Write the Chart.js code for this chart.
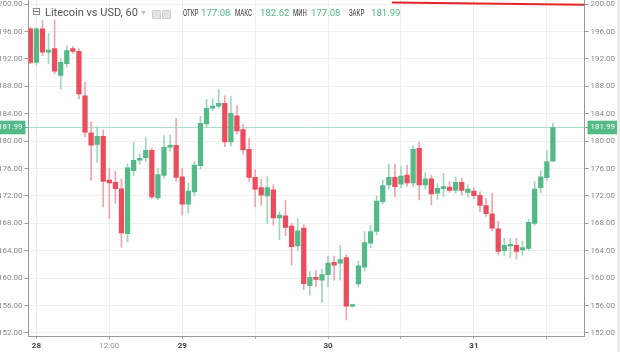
<!DOCTYPE html>
<html>
<head>
<meta charset="utf-8">
<script src="https://cdn.jsdelivr.net/npm/chart.js@4"></script>
<style>
  html, body { margin: 0; padding: 0; background: #fff; }
  #wrap { position: relative; width: 620px; height: 352px; overflow: hidden; }
  #edge { position: absolute; left: 617px; top: 0; width: 3px; height: 352px; background: #ececec; }
  #head span { position: absolute; white-space: nowrap; font-family: Roboto, sans-serif; }
  .lbl { top: 7px; font-size: 9.6px; color: #333; transform: scaleX(0.63); transform-origin: 0 0; }
  .val { top: 7px; font-size: 9.6px; color: #53b987; }
  .ico { top: 10px; width: 7px; height: 7px; background: #e4e4e4; border: 1px solid #d0d0d0; border-radius: 1px; }
</style>
</head>
<body>
<div id="wrap">
  <canvas id="myChart" width="620" height="352"></canvas>
  <div id="edge"></div>
  <div id="head">
    <span style="left:32px;top:5px;font-size:11px;color:#777;font-family:'DejaVu Sans'">⊟</span>
    <span style="left:45px;top:6px;font-size:11px;color:#555">Litecoin vs USD, 60</span>
    <span style="left:140px;top:9px;font-size:7px;color:#bbb">▼</span>
    <span class="ico" style="left:152px"></span>
    <span class="ico" style="left:162px"></span>
    <span class="lbl" style="left:183px">ОТКР</span>
    <span class="val" style="left:201px">177.08</span>
    <span class="lbl" style="left:235px">МАКС</span>
    <span class="val" style="left:260px">182.62</span>
    <span class="lbl" style="left:293px">МИН</span>
    <span class="val" style="left:311px">177.08</span>
    <span class="lbl" style="left:349px">ЗАКР</span>
    <span class="val" style="left:371px">181.99</span>
  </div>
</div>
<script>
// hourly candles, 27th 23:00 .. 31st ~13:00
var opens  = [196.4, 191.5, 196.4, 193.0, 193.5, 189.6, 191.3, 193.5, 193.1, 186.6,
              181.2, 179.5, 180.7, 174.3, 174.0, 173.05, 166.5, 175.7, 177.2, 177.6,
              178.65, 171.7, 175.0, 179.1, 179.4, 174.8, 170.8, 172.6, 176.4, 182.5,
              184.8, 185.1, 185.5, 179.9, 183.7, 181.7, 178.8, 174.7, 173.2, 172.0,
              172.9, 168.8, 169.1, 167.6, 164.7, 167.3, 158.9, 160.1, 159.7, 160.5,
              162.3, 162.2, 163.0, 155.9, 159.15, 161.6, 165.1, 166.8, 171.15, 173.6,
              174.7, 173.7, 175.05, 173.9, 178.95, 173.6, 174.5, 172.4, 173.05, 173.3,
              172.8, 174.0, 172.5, 172.7, 172.1, 170.6, 169.4, 167.2, 164.0, 164.7,
              164.8, 164.1, 164.35, 168.0, 173.2, 174.65, 177.08];
var highs  = [196.6, 196.6, 197.6, 195.7, 197.7, 192.0, 193.9, 193.8, 193.5, 188.6,
              182.8, 182.1, 181.6, 176.0, 175.6, 174.5, 176.7, 179.9, 178.1, 180.6,
              179.0, 176.0, 180.8, 180.9, 183.3, 176.0, 173.9, 177.0, 183.6, 186.1,
              186.2, 187.6, 186.6, 186.5, 185.2, 182.4, 180.4, 175.8, 174.4, 174.8,
              173.6, 169.7, 171.4, 168.0, 168.7, 167.8, 160.95, 161.1, 161.3, 163.2,
              163.2, 164.8, 163.4, 156.2, 162.5, 166.8, 167.7, 172.0, 174.3, 176.65,
              176.65, 176.3, 176.5, 179.3, 179.9, 175.4, 175.0, 173.8, 175.3, 174.1,
              174.8, 174.6, 173.6, 173.2, 172.6, 171.6, 172.4, 168.3, 165.8, 165.8,
              165.8, 165.4, 168.6, 174.1, 175.7, 178.7, 182.62];
var lows   = [191.3, 191.05, 192.5, 191.3, 189.8, 187.6, 190.8, 192.8, 186.2, 180.6,
              174.3, 176.9, 170.4, 168.7, 170.9, 164.5, 165.3, 175.0, 176.6, 177.0,
              171.6, 171.5, 174.6, 178.5, 174.1, 169.2, 169.5, 172.0, 175.9, 182.0,
              184.5, 184.8, 179.2, 179.3, 181.0, 178.1, 174.1, 170.4, 170.6, 168.0,
              167.7, 165.6, 166.2, 161.9, 164.0, 158.3, 157.5, 158.7, 156.4, 158.7,
              159.7, 159.7, 153.9, 155.8, 158.7, 161.0, 164.4, 166.3, 170.8, 173.0,
              171.9, 173.2, 173.4, 173.4, 171.4, 173.0, 170.7, 171.5, 171.9, 172.5,
              172.4, 172.1, 171.8, 171.6, 169.7, 169.0, 166.9, 163.4, 163.3, 163.0,
              162.8, 163.3, 164.0, 167.7, 172.4, 174.2, 177.08];
var closes = [191.5, 196.4, 193.0, 193.3, 190.2, 191.5, 193.2, 193.1, 186.9, 181.3,
              179.4, 180.7, 174.1, 173.9, 173.05, 166.6, 176.1, 177.2, 177.5, 178.65,
              171.85, 175.1, 179.1, 179.4, 174.7, 170.8, 172.7, 176.5, 182.6, 184.8,
              185.1, 185.5, 179.9, 184.05, 181.5, 178.7, 174.7, 173.0, 172.1, 173.2,
              168.8, 169.2, 167.4, 164.6, 166.9, 159.2, 160.1, 159.8, 160.5, 162.2,
              161.9, 162.7, 155.9, 156.0, 161.8, 165.2, 166.8, 171.25, 173.5, 174.7,
              173.35, 174.9, 173.9, 178.8, 173.6, 174.5, 172.3, 173.1, 173.35, 172.8,
              174.0, 172.8, 173.0, 172.05, 170.6, 169.4, 167.3, 163.9, 164.8, 164.9,
              163.9, 164.45, 168.15, 173.0, 174.8, 177.0, 181.99];

var timeTicks  = [1, 13, 25, 37, 49, 61, 73, 85];
var timeLabels = ['28', '12:00', '29', '', '30', '', '31', ''];
var priceTicks = [152, 156, 160, 164, 168, 172, 176, 180, 184, 188, 192, 196, 200];
var lastPrice = 181.99;
var trendLine = [{x: 59.5, y: 200.25}, {x: 91.2, y: 199.9}];
var xMin = -0.3, xMax = 91.2;

var UP = '#53b987', DOWN = '#eb4d5c';
var UP_WICK = '#9fd7bc', DOWN_WICK = '#f3a3ac';

var bodies = opens.map(function (o, i) { return {x: i, y: [o, closes[i]]}; });
var wicks = lows.map(function (l, i) { return {x: i, y: [l, highs[i]]}; });
function isUp(i) { return closes[i] >= opens[i]; }

function priceAxis(pos) {
    return {
        position: pos,
        min: 151.55,
        max: 200.6,
        afterBuildTicks: function (s) {
            s.ticks = priceTicks.concat([lastPrice]).map(function (v) { return {value: v}; });
        },
        afterFit: function (s) {
            s.width = pos == 'left' ? 28.5 : 35.5;
            s.paddingTop = 0;
            s.paddingBottom = 0;
        },
        ticks: {
            autoSkip: false,
            padding: 2,
            font: {family: 'Roboto', size: 8},
            color: function (c) { return c.tick && c.tick.value == lastPrice ? '#fff' : '#888'; },
            showLabelBackdrop: function (c) { return !!(c.tick && c.tick.value == lastPrice); },
            backdropColor: UP,
            backdropPadding: {x: 3, y: 2},
            callback: function (v) { return Number(v).toFixed(2); }
        },
        grid: {
            drawOnChartArea: pos == 'left',
            tickLength: 4,
            color: function (c) { return c.tick && c.tick.value == lastPrice ? 'rgba(0,0,0,0)' : '#f0f0f0'; },
            tickColor: function (c) { return c.tick && c.tick.value == lastPrice ? UP : '#999'; }
        },
        border: {color: '#999'}
    };
}

var ctx = document.getElementById('myChart').getContext('2d');
var myChart = new Chart(ctx, {
    type: 'bar',
    data: {
        datasets: [{
            label: 'body',
            data: bodies,
            grouped: false,
            barThickness: 4.6,
            minBarLength: 1.5,
            order: 1,
            backgroundColor: function (c) { return isUp(c.dataIndex) ? UP : DOWN; }
        }, {
            label: 'wick',
            data: wicks,
            grouped: false,
            barThickness: 1,
            order: 2,
            backgroundColor: function (c) { return isUp(c.dataIndex) ? UP_WICK : DOWN_WICK; }
        }, {
            type: 'line',
            label: 'last',
            data: [{x: xMin, y: lastPrice}, {x: xMax, y: lastPrice}],
            borderColor: '#aadfc7',
            borderWidth: 1,
            pointRadius: 0,
            order: 3
        }, {
            type: 'line',
            label: 'trend',
            data: trendLine,
            borderColor: '#e3242b',
            borderWidth: 2,
            pointRadius: 0,
            order: 0
        }]
    },
    options: {
        responsive: false,
        animation: false,
        layout: {padding: 0},
        plugins: {legend: {display: false}, tooltip: {enabled: false}},
        scales: {
            x: {
                type: 'linear',
                offset: false,
                min: xMin,
                max: xMax,
                afterBuildTicks: function (s) {
                    s.ticks = timeTicks.map(function (v) { return {value: v}; });
                },
                afterFit: function (s) {
                    s.height = 16;
                    s.paddingLeft = 0;
                    s.paddingRight = 0;
                },
                ticks: {
                    autoSkip: false,
                    maxRotation: 0,
                    padding: 2,
                    font: function (c) {
                        var lb = timeLabels[timeTicks.indexOf(c.tick ? c.tick.value : -1)];
                        return {family: 'Roboto', size: 8, weight: lb == '12:00' ? 'normal' : 'bold'};
                    },
                    color: function (c) {
                        var lb = timeLabels[timeTicks.indexOf(c.tick ? c.tick.value : -1)];
                        return lb == '12:00' ? '#999' : '#444';
                    },
                    callback: function (v) { return timeLabels[timeTicks.indexOf(v)]; }
                },
                grid: {offset: false, color: '#eeeeee', tickLength: 3, tickColor: '#aaa'},
                border: {color: '#999'}
            },
            y: priceAxis('left'),
            y2: priceAxis('right')
        }
    }
});
</script>
</body>
</html>
